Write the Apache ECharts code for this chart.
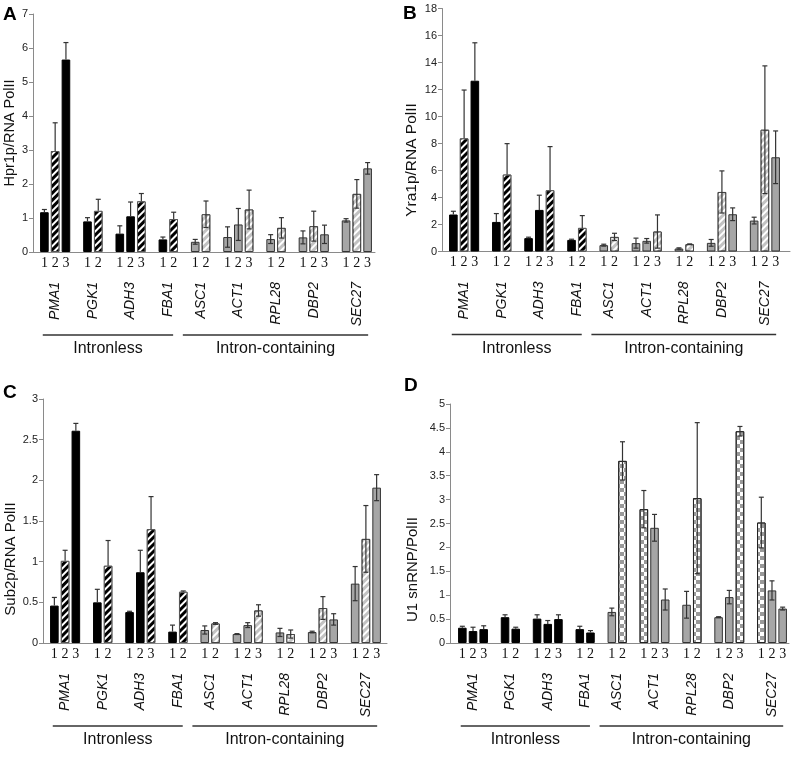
<!DOCTYPE html>
<html>
<head>
<meta charset="utf-8">
<script src="https://cdn.jsdelivr.net/npm/echarts/dist/echarts.min.js"></script>
<style>
html,body{margin:0;padding:0;background:#fff;}
#chart{width:800px;height:758px;}
</style>
</head>
<body>
<div id="chart"></div>
<script>
// ---------- data ----------
const genes = ['PMA1','PGK1','ADH3','FBA1','ASC1','ACT1','RPL28','DBP2','SEC27'];
const intronless = [true,true,true,true,false,false,false,false,false];
const groupNames = ['Intronless','Intron-containing'];

const hpr1    = [[1.17,2.97,5.66],[0.90,1.21],[0.54,1.05,1.49],[0.37,0.97],[0.30,1.11],[0.44,0.81,1.25],[0.38,0.71],[0.43,0.76,0.52],[0.93,1.71,2.46]];
const hpr1Err = [[0.08,0.83,0.50],[0.11,0.34],[0.23,0.42,0.23],[0.07,0.20],[0.07,0.39],[0.30,0.47,0.57],[0.13,0.30],[0.19,0.44,0.27],[0.05,0.42,0.17]];

const yra1    = [[2.74,8.38,12.65],[2.19,5.70],[0.99,3.08,4.54],[0.86,1.75],[0.47,1.08],[0.62,0.79,1.48],[0.22,0.54],[0.64,4.41,2.76],[2.29,9.02,6.98]];
const yra1Err = [[0.24,3.58,2.81],[0.62,2.29],[0.07,1.09,3.23],[0.05,0.91],[0.07,0.27],[0.37,0.17,1.23],[0.05,0.02],[0.25,1.56,0.47],[0.25,4.73,1.95]];

const sub2    = [[0.46,1.01,2.61],[0.50,0.95],[0.38,0.87,1.40],[0.14,0.63],[0.16,0.24],[0.11,0.22,0.40],[0.13,0.11],[0.135,0.43,0.29],[0.73,1.28,1.91]];
const sub2Err = [[0.10,0.13,0.09],[0.16,0.31],[0.01,0.27,0.40],[0.08,0.01],[0.05,0.01],[0.005,0.03,0.07],[0.05,0.05],[0.01,0.14,0.07],[0.21,0.41,0.16]];

const u1      = [[0.32,0.25,0.29],[0.54,0.30],[0.51,0.40,0.50],[0.29,0.22],[0.65,3.81],[2.80,2.41,0.91],[0.80,3.03],[0.54,0.96,4.43],[2.52,1.10,0.72]];
const u1Err   = [[0.03,0.08,0.07],[0.05,0.03],[0.08,0.07,0.09],[0.06,0.04],[0.08,0.40],[0.39,0.28,0.22],[0.28,1.58],[0.01,0.14,0.10],[0.53,0.20,0.03]];

const stripedBar   = [1,1,2,1,1,2,1,1,1];        // panels A-C: index of hatched bar per gene
const checkeredBar = [-1,-1,-1,-1,1,0,1,2,0];    // panel D: index of checkered bar per gene

// ---------- layout ----------
const panels = [
  {letter:'A', values:hpr1, errs:hpr1Err, yName:'Hpr1p/RNA PolII', yMax:7,  yInt:1,   pattern:'stripe',
   outer:{left:33, top:14, width:342, height:238}, innerLeft:39, innerWidth:334, nameGap:15, nameShift:0, nameSize:14.5, lt:[3,5]},
  {letter:'B', values:yra1, errs:yra1Err, yName:'Yra1p/RNA PolII', yMax:18, yInt:2,   pattern:'stripe',
   outer:{left:442, top:8.5, width:348, height:243}, innerLeft:448, innerWidth:333, nameGap:22, nameShift:30, nameSize:15.5, lt:[403,4]},
  {letter:'C', values:sub2, errs:sub2Err, yName:'Sub2p/RNA PolII', yMax:3,  yInt:0.5, pattern:'stripe',
   outer:{left:43, top:399, width:344, height:244}, innerLeft:49, innerWidth:333, nameGap:24, nameShift:38, nameSize:15, lt:[3,383]},
  {letter:'D', values:u1,   errs:u1Err,   yName:'U1 snRNP/PolII',  yMax:5,  yInt:0.5, pattern:'check',
   outer:{left:450, top:404, width:339, height:239}, innerLeft:457, innerWidth:331, nameGap:30, nameShift:46, nameSize:15, lt:[404,376]}
];
const groupSpans = [[0.35,12.45],[13.35,30.55]]; // in slot units

const stripeDecal = {symbol:'rect', symbolSize:1, dashArrayX:[1,0], dashArrayY:[2,3], rotation:-Math.PI/4, color:'#ffffff'};
const checkDecal  = {symbol:'rect', symbolSize:1, dashArrayX:[[4,4],[0,4,4,0]], dashArrayY:[4,0], rotation:0, color:'#9a9a9a'};

function buildSlots(values){
  const slots=[];
  values.forEach((g,i)=>{
    g.forEach((v,j)=>slots.push({gene:i,bar:j}));
    if(i<values.length-1) slots.push(null);
  });
  return slots;
}
function styleFor(pattern,g,b){
  const dark = intronless[g];
  if(pattern==='stripe'){
    const hatched = stripedBar[g]===b;
    if(dark) return hatched ? {color:'#000', borderColor:'#555', borderWidth:1, decal:stripeDecal} : {color:'#000', borderColor:'#000', borderWidth:1};
    return hatched ? {color:'#c2c2c2', borderColor:'#444', borderWidth:1, decal:stripeDecal} : {color:'#a6a6a6', borderColor:'#333', borderWidth:1};
  } else {
    if(dark) return {color:'#000', borderColor:'#000', borderWidth:1};
    if(checkeredBar[g]===b) return {color:'#fff', borderColor:'#222', borderWidth:1, decal:checkDecal};
    return {color:'#a6a6a6', borderColor:'#333', borderWidth:1};
  }
}

const grid=[], xAxis=[], yAxis=[], series=[], title=[];
panels.forEach((p,k)=>{
  const slots = buildSlots(p.values);
  const slotLabels = slots.map(s=>s? String(s.bar+1) : '');
  const geneLabels = new Array(2*slots.length+1).fill('');
  let pos=0;
  p.values.forEach((g,i)=>{
    if(g.length===3) geneLabels[2*(pos+1)+1]=genes[i];
    else geneLabels[2*pos+2]=genes[i];
    pos += g.length+1;
  });
  const barData = slots.map(s=> s ? {value:p.values[s.gene][s.bar], itemStyle:styleFor(p.pattern,s.gene,s.bar)} : '-');
  const errData = [];
  slots.forEach((s,idx)=>{ if(s) errData.push([idx, p.values[s.gene][s.bar], p.errs[s.gene][s.bar], intronless[s.gene]?1:0]); });

  grid.push({left:p.outer.left, top:p.outer.top, width:p.outer.width, height:p.outer.height});
  grid.push({left:p.innerLeft, top:p.outer.top, width:p.innerWidth, height:p.outer.height});
  const gO=2*k, gI=2*k+1;
  xAxis.push({gridIndex:gO, type:'value', position:'bottom', min:0, max:1, axisLine:{show:true,onZero:false,lineStyle:{color:'#8a8a8a',width:1}}, axisTick:{show:false}, axisLabel:{show:false}, splitLine:{show:false}});
  xAxis.push({gridIndex:gI, type:'category', position:'bottom', data:slotLabels, axisLine:{show:false,onZero:false}, axisTick:{show:false},
    axisLabel:{interval:0, fontFamily:'Liberation Serif', fontSize:14, color:'#111', margin:4}});
  xAxis.push({gridIndex:gI, type:'category', position:'bottom', boundaryGap:false, data:geneLabels, axisLine:{show:false,onZero:false}, axisTick:{show:false},
    axisLabel:{interval:0, rotate:90, fontFamily:'Liberation Sans', fontStyle:'italic', fontSize:14, color:'#111', margin:30}});
  yAxis.push({gridIndex:gO, type:'value', min:0, max:p.yMax, interval:p.yInt,
    axisLine:{show:true,lineStyle:{color:'#8a8a8a'}}, axisTick:{show:true,length:4,lineStyle:{color:'#8a8a8a'}},
    axisLabel:{fontFamily:'Liberation Sans', fontSize:11, color:'#222', margin:5}, splitLine:{show:false},
    name:p.yName, nameLocation:'middle', nameGap:p.nameGap, nameRotate:90,
    nameTextStyle:{fontFamily:'Liberation Sans', fontSize:p.nameSize, color:'#111', padding:[0,2*p.nameShift,0,0]}});
  yAxis.push({gridIndex:gI, type:'value', min:0, max:p.yMax, interval:p.yInt, show:true,
    axisLine:{show:false}, axisTick:{show:false}, axisLabel:{show:false}, splitLine:{show:false}});
  series.push({type:'bar', xAxisIndex:3*k+1, yAxisIndex:2*k+1, data:barData, barWidth:'80%', silent:true, animation:false});
  series.push({type:'custom', xAxisIndex:3*k+1, yAxisIndex:2*k+1, data:errData, z:5, silent:true, animation:false,
    encode:{x:0,y:1},
    renderItem:(params,api)=>{
      const x=api.value(0), v=api.value(1), e=api.value(2), plus=api.value(3);
      const t=api.coord([x,v+e]); const b=api.coord([x, plus? v : Math.max(0,v-e)]);
      const hw=2.5; const st={stroke:'#333', lineWidth:1.2};
      const ch=[{type:'line', shape:{x1:t[0],y1:t[1],x2:b[0],y2:b[1]}, style:st},
                {type:'line', shape:{x1:t[0]-hw,y1:t[1],x2:t[0]+hw,y2:t[1]}, style:st}];
      if(!plus) ch.push({type:'line', shape:{x1:b[0]-hw,y1:b[1],x2:b[0]+hw,y2:b[1]}, style:st});
      return {type:'group', children:ch};
    }});
  title.push({text:p.letter, left:p.lt[0], top:p.lt[1], padding:0, textStyle:{fontFamily:'Liberation Sans', fontWeight:'bold', fontSize:19, color:'#000'}});
});

const chart = echarts.init(document.getElementById('chart'), null, {renderer:'canvas'});
chart.setOption({backgroundColor:'#fff', animation:false, title, grid, xAxis, yAxis, series});

// group annotation lines and labels under each panel
const graphic=[];
panels.forEach((p,k)=>{
  const x0 = chart.convertToPixel({xAxisIndex:3*k+1}, 0);
  const x1 = chart.convertToPixel({xAxisIndex:3*k+1}, 1);
  const W = x1-x0, start = x0 - W/2;
  const base = p.outer.top + p.outer.height;
  groupSpans.forEach((sp,gi)=>{
    const a = start + sp[0]*W, b = start + sp[1]*W;
    graphic.push({type:'line', shape:{x1:a,y1:base+83,x2:b,y2:base+83}, style:{stroke:'#333', lineWidth:1.5}, silent:true});
    graphic.push({type:'text', x:(a+b)/2, y:base+97, style:{text:groupNames[gi], fontFamily:'Liberation Sans', fontSize:16, fill:'#111', textAlign:'center', textVerticalAlign:'middle'}, silent:true});
  });
});
chart.setOption({graphic});
</script>
</body>
</html>
